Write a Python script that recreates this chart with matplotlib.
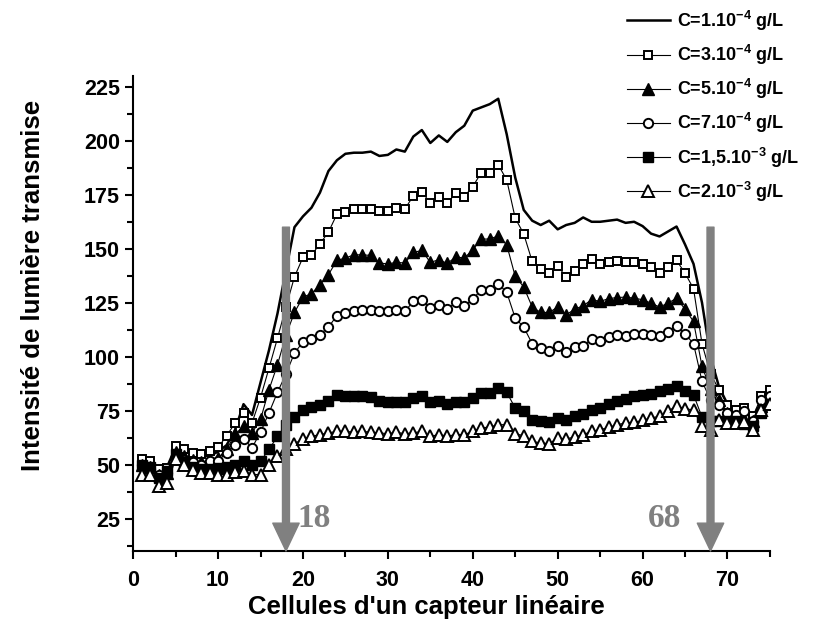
import numpy as np
import matplotlib.pyplot as plt
from matplotlib.ticker import MultipleLocator

plt.rcParams['font.family'] = ['Liberation Sans', 'DejaVu Sans']
plt.rcParams['font.weight'] = 'bold'
plt.rcParams['mathtext.fontset'] = 'custom'
plt.rcParams['mathtext.rm'] = 'Liberation Sans:bold'
plt.rcParams['mathtext.it'] = 'Liberation Sans:bold'
plt.rcParams['mathtext.bf'] = 'Liberation Sans:bold'

# Cellules 1..75
cellules = np.arange(1, 76)

# C = 1.10^-4 g/L (trait continu)
c1 = [52, 51, 47, 49, 58, 56, 55, 54, 54, 56, 59, 66, 78, 73, 88, 103, 120, 140, 160, 165,
      169, 176, 186, 191, 194, 194.5, 194.5, 195, 193, 193.5, 196, 195, 202, 205, 199, 202.5, 199.5, 204, 207, 214,
      215.5, 217, 219.5, 203, 183, 168, 163, 161, 163, 159, 161, 162, 164.5, 162.5, 162.5, 163, 163.5, 162, 162.5, 160.5,
      157, 155.7, 158, 160.3, 152, 143, 125, 100, 86, 78, 75, 75, 72, 79, 84]
# C = 3.10^-4 g/L
c3 = [52.4, 51.6, 48, 48.5, 58.5, 57.3, 55.4, 54.7, 56.2, 58, 63.2, 69.3, 74, 69.3, 81, 94.7, 108.6, 123, 137, 146,
      147, 152.3, 157.7, 166, 166.8, 168.5, 168.5, 168.5, 167.3, 167.3, 168.8, 168.4, 174.5, 176.5, 171.1, 174, 171.1, 175.8, 174.2, 178.8,
      185.3, 185.3, 188.9, 181.9, 164.2, 156.9, 144.1, 140.7, 139, 142.1, 136.9, 139.5, 143, 145.4, 143, 144, 144.1, 143.7, 143.7, 143,
      141.5, 138.7, 141.5, 144.6, 138.7, 131.5, 106, 92, 84.7, 77.8, 75.5, 76.2, 72.4, 81.6, 84.7]
# C = 5.10^-4 g/L
c5 = [50, 49, 45, 46, 56, 54, 52, 51, 52, 53, 57, 64, 67.8, 64.7, 70.9, 84.7, 96.3, 110, 120.5, 127.6,
      129.2, 133.3, 138, 144.6, 145.7, 147.2, 147.2, 146.9, 143.4, 143, 143.7, 143.4, 148.3, 149.2, 143.7, 144.9, 143.2, 146.2, 145.7, 149.5,
      154.5, 154.5, 156, 151.8, 137.2, 132.3, 123, 120.5, 120.5, 123, 119.4, 122, 123.6, 126.4, 125.6, 126.9, 127.4, 127.6, 127.1, 126.4,
      124.8, 123, 124.8, 127.1, 122, 116.3, 95.5, 85, 80, 74, 72, 71, 70, 77, 80]
# C = 7.10^-4 g/L
c7 = [50, 48, 45, 46, 54, 52, 51, 50, 51.6, 51.9, 55.4, 59.3, 62, 57.8, 65, 74, 83.5, 92, 101.7, 106.8,
      108.2, 110.2, 113.7, 119, 120.2, 121, 121.4, 121.4, 121, 121, 121.4, 121, 125.6, 126.4, 122.5, 124.1, 122, 125.2, 123.6, 126.7,
      131, 131, 133.8, 129.8, 117.9, 113.7, 106, 104, 102.5, 104.8, 102, 104.5, 105.1, 108.2, 107.1, 109.2, 110, 109.4, 110.6, 110.6,
      110.2, 109.4, 111.3, 114.3, 110.6, 106, 88.6, 80, 77.8, 73.9, 73.2, 74.7, 70, 80.1, 82]
# C = 1,5.10^-3 g/L
c15 = [50, 49, 44, 47, 55, 51, 49, 48, 48, 48.5, 49, 50, 51.6, 50, 51.6, 57, 63.1, 68.5, 72.2, 75.3,
       76.7, 77.8, 79.3, 82.4, 81.6, 81.6, 81.6, 81.3, 79.3, 79, 79, 79, 80.9, 81.6, 79, 79.3, 78.2, 79.2, 79, 80.9,
       83.2, 83.2, 85.5, 83.5, 76.2, 74.7, 70.8, 70, 69.6, 71.6, 70.8, 72.7, 73.6, 75.2, 76.2, 78.2, 79.3, 80.4, 81.6, 82.4,
       82.9, 83.9, 85, 86.6, 83.9, 82.4, 72, 70, 70, 70, 70, 69, 68, 74, 78]
# C = 2.10^-3 g/L
c2 = [45.4, 45, 40.3, 41.3, 52.4, 50, 47.7, 45.9, 45.9, 45.4, 45.4, 46.5, 47, 45.4, 45.4, 50, 54.2, 57, 59.7, 61.9,
      63.1, 63.9, 64.7, 65.4, 65.4, 65, 65.4, 65, 64.7, 64.3, 65, 64.3, 64.7, 65.4, 63.1, 63.9, 63.2, 63.9, 63.9, 65.4,
      67, 67.4, 68.5, 68.5, 64.3, 63.4, 60.8, 60, 59.7, 62.3, 61.9, 62.8, 63.9, 65.4, 66.2, 67.2, 68.5, 69.3, 69.6, 70.5,
      71.6, 72.4, 74.7, 77.3, 75.8, 75.4, 67.7, 66, 70.8, 69.3, 69.3, 69.6, 66.2, 75.5, 78]

labels = [r'C=1.10$^{-4}$ g/L', r'C=3.10$^{-4}$ g/L', r'C=5.10$^{-4}$ g/L',
          r'C=7.10$^{-4}$ g/L', r'C=1,5.10$^{-3}$ g/L', r'C=2.10$^{-3}$ g/L']

fig = plt.figure(figsize=(8.27, 6.34), dpi=100)
ax = fig.add_axes([0.161, 0.131, 0.770, 0.749])

ms = 7
ax.plot(cellules, c1, color='black', lw=1.8, label=labels[0])
ax.plot(cellules, c3, color='black', lw=0.8, marker='s', ms=ms - 0.8, mfc='white', mec='black', mew=1.4, label=labels[1])
ax.plot(cellules, c5, color='black', lw=0.8, marker='^', ms=ms + 1, mfc='black', mec='black', label=labels[2])
ax.plot(cellules, c7, color='black', lw=0.8, marker='o', ms=ms - 0.3, mfc='white', mec='black', mew=1.4, label=labels[3])
ax.plot(cellules, c15, color='black', lw=0.8, marker='s', ms=ms - 0.5, mfc='black', mec='black', label=labels[4])
ax.plot(cellules, c2, color='black', lw=0.8, marker='^', ms=ms + 1, mfc='white', mec='black', mew=1.4, label=labels[5])

ax.set_xlim(0, 75)
ax.set_ylim(10, 230)

# Flèches grises
for xa in (18, 68):
    ax.annotate('', xy=(xa, 10), xytext=(xa, 160),
                arrowprops=dict(width=5, headwidth=19, headlength=20, color='#808080', shrink=0))
ax.text(19.3, 25, '18', family='Liberation Serif', fontsize=24, fontweight='bold', color='#808080',
        ha='left', va='center')
ax.text(64.6, 25, '68', family='Liberation Serif', fontsize=24, fontweight='bold', color='#808080',
        ha='right', va='center')

ax.spines['top'].set_visible(False)
ax.spines['right'].set_visible(False)
ax.spines['left'].set_linewidth(1.5)
ax.spines['bottom'].set_linewidth(1.5)

ax.xaxis.set_major_locator(MultipleLocator(10))
ax.xaxis.set_minor_locator(MultipleLocator(5))
ax.yaxis.set_major_locator(MultipleLocator(25))
ax.yaxis.set_minor_locator(MultipleLocator(12.5))
ax.set_yticks([25, 50, 75, 100, 125, 150, 175, 200, 225])
ax.tick_params(which='major', length=6, width=1.5, labelsize=15.5)
ax.tick_params(axis='x', which='major', pad=8)
ax.tick_params(which='minor', length=4, width=1.5)

ax.set_xlabel("Cellules d'un capteur linéaire", fontsize=18.5, fontweight='bold')
ax.set_ylabel("Intensité de lumière transmise", fontsize=18.5, fontweight='bold')
ax.xaxis.set_label_coords(0.46, -0.092)
ax.yaxis.set_label_coords(-0.138, 0.56)

fig.legend(loc='upper right', bbox_to_anchor=(0.986, 1.012), frameon=False, fontsize=13,
           handlelength=2.4, handletextpad=0.4, labelspacing=0.56)

plt.savefig('out.png', dpi=100)
